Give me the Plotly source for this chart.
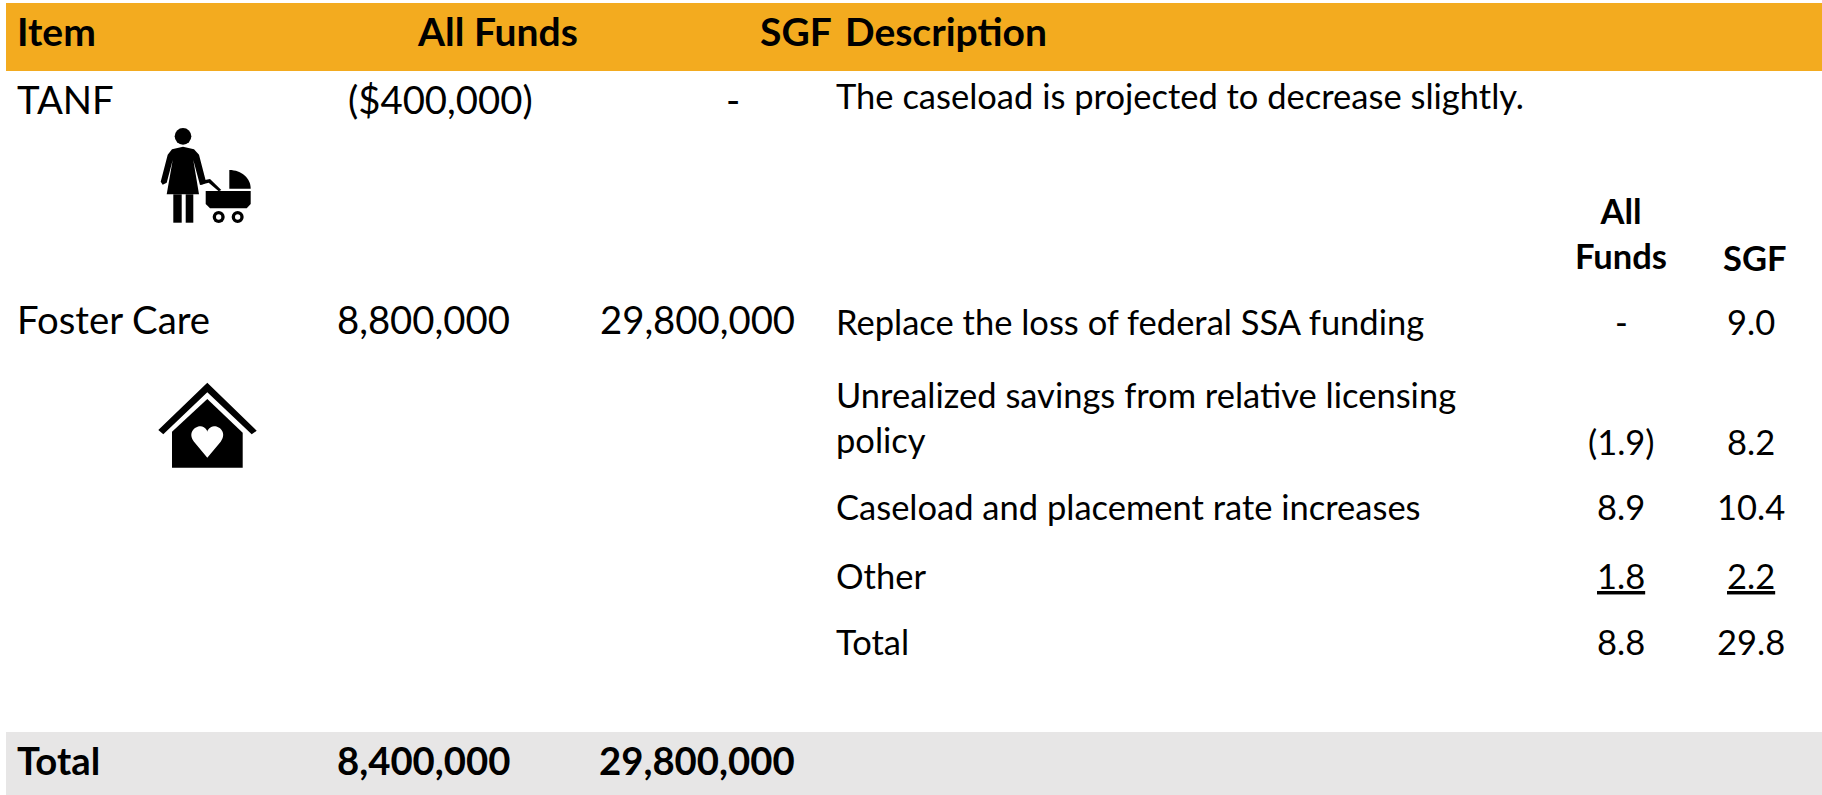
import plotly.graph_objects as go

W, H = 1822, 795
FONT = "Lato"
SIZE_LEFT = 38.3
SIZE_DESC = 34.5
SIZE_HEAD = 39

# ---- table content ----
header_labels = ["Item", "All Funds", "SGF", "Description"]
item_labels = ["TANF", "Foster Care", "Total"]
all_funds = ["($400,000)", "8,800,000", "8,400,000"]
sgf = ["-", "29,800,000", "29,800,000"]
tanf_description = "The caseload is projected to decrease slightly."
detail_labels = ["Replace the loss of federal SSA funding",
                 "Unrealized savings from relative licensing<br>policy",
                 "Caseload and placement rate increases", "Other", "Total"]
detail_all_funds = ["-", "(1.9)", "8.9", "<u>1.8</u>", "8.8"]
detail_sgf = ["9.0", "8.2", "10.4", "<u>2.2</u>", "29.8"]
detail_headers = ["All<br>Funds", "SGF"]

ORANGE = "#F3AB1F"
GREY = "#E7E6E6"
INK = "#000000"

fig = go.Figure()
ann = []


def text(x, y, s, anchor="left", bold=False, size=SIZE_LEFT):
    ann.append(dict(x=x, y=y, text=f"<b>{s}</b>" if bold else s, xref="x", yref="y",
                    showarrow=False, xanchor=anchor, yanchor="middle",
                    align="center" if anchor == "center" else "left",
                    font=dict(family=FONT, size=size, color=INK),
                    borderpad=0, borderwidth=0))


# header row
text(17, 31, header_labels[0], bold=True, size=SIZE_HEAD)
text(578, 31, header_labels[1], anchor="right", bold=True, size=SIZE_HEAD)
text(832, 31, header_labels[2], anchor="right", bold=True, size=SIZE_HEAD)
text(845, 31, header_labels[3], bold=True, size=SIZE_HEAD)

# main rows
row_y = [99, 319, 760]
col_item, col_af, col_sgf = 17, 510, 795
text(col_item, row_y[0], item_labels[0])
text(533, row_y[0], all_funds[0], anchor="right")
text(733, row_y[0], sgf[0], anchor="center")
text(836, 95, tanf_description, size=SIZE_DESC)
text(col_item, row_y[1], item_labels[1])
text(col_af, row_y[1], all_funds[1], anchor="right")
text(col_sgf, row_y[1], sgf[1], anchor="right")
text(col_item, row_y[2], item_labels[2], bold=True)
text(col_af, row_y[2], all_funds[2], anchor="right", bold=True)
text(col_sgf, row_y[2], sgf[2], anchor="right", bold=True)

# detail sub table
detail_y = [321, 417, 506, 575, 641]
val_y = [321, 441, 506, 575, 641]
col_d, col_daf, col_dsgf = 836, 1621, 1751
text(col_daf, 233, detail_headers[0], anchor="center", bold=True, size=SIZE_DESC)
text(1755, 257, detail_headers[1], anchor="center", bold=True, size=SIZE_DESC)
for i in range(5):
    text(col_d, detail_y[i], detail_labels[i], size=SIZE_DESC)
    text(col_daf, val_y[i], detail_all_funds[i], anchor="center", size=SIZE_DESC)
    text(col_dsgf, val_y[i], detail_sgf[i], anchor="center", size=SIZE_DESC)


# ---- icons, traced in crop pixels (crop origin + 3x zoom) ----
def pt(ox, oy, x, y):
    return f"{ox + x / 3:.1f},{oy + y / 3:.1f}"


def poly(ox, oy, pts):
    return "M" + " L".join(pt(ox, oy, *p) for p in pts) + " Z"


shapes = [
    dict(type="rect", x0=6, x1=W, y0=3, y1=71, fillcolor=ORANGE, line_width=0, layer="below"),
    dict(type="rect", x0=6, x1=W, y0=732, y1=795, fillcolor=GREY, line_width=0, layer="below"),
]


def fill(path, color=INK):
    shapes.append(dict(type="path", path=path, fillcolor=color, line_width=0, xref="x", yref="y"))


def circle(cx, cy, r, color=INK):
    shapes.append(dict(type="circle", x0=cx - r, x1=cx + r, y0=cy - r, y1=cy + r,
                       fillcolor=color, line_width=0, xref="x", yref="y"))


# mother and pram
fill(poly(0, 0, [(549, 440), (582, 448), (597, 464), (618, 545), (612, 552), (600, 555), (580, 480),
                 (597, 583), (500, 583), (518, 480), (500, 548), (488, 554), (482, 545), (503, 464), (516, 448)]))
fill(poly(0, 0, [(520, 583), (545, 583), (545, 668), (520, 668)]))
fill(poly(0, 0, [(557, 583), (580, 583), (580, 668), (557, 668)]))
fill(poly(0, 0, [(600, 543), (630, 537), (664, 570), (656, 574), (626, 548), (602, 554)]))
circle(549 / 3, 409 / 3, 25 / 3)
fill("M" + pt(0, 0, 688, 510) + " C" + pt(0, 0, 725, 510) + " " + pt(0, 0, 752, 535) + " " + pt(0, 0, 752, 566)
     + " L" + pt(0, 0, 688, 566) + " Z")
fill(poly(0, 0, [(617, 573), (752, 573), (752, 612), (740, 625), (630, 625), (617, 612)]))
for wx in (656, 713):
    circle(wx / 3, 651 / 3, 18 / 3)
    circle(wx / 3, 651 / 3, 8 / 3, "white")

# house
ox, oy = 130, 360
fill(poly(ox, oy, [(232, 68), (380, 212), (365, 223), (232, 97), (100, 223), (85, 210)]))
fill(poly(ox, oy, [(232, 117), (338, 218), (338, 323), (126, 323), (126, 215)]))
fill("M" + pt(ox, oy, 232, 293) + " L" + pt(ox, oy, 192, 245) + " C" + pt(ox, oy, 172, 218) + " " + pt(ox, oy, 195, 198)
     + " " + pt(ox, oy, 212, 199) + " C" + pt(ox, oy, 224, 200) + " " + pt(ox, oy, 232, 210) + " " + pt(ox, oy, 232, 216)
     + " C" + pt(ox, oy, 232, 210) + " " + pt(ox, oy, 240, 200) + " " + pt(ox, oy, 252, 199)
     + " C" + pt(ox, oy, 269, 198) + " " + pt(ox, oy, 292, 218) + " " + pt(ox, oy, 272, 245) + " Z", "white")

fig.update_layout(
    width=W, height=H, autosize=False,
    margin=dict(l=0, r=0, t=0, b=0),
    paper_bgcolor="white", plot_bgcolor="white", showlegend=False,
    xaxis=dict(range=[0, W], visible=False, fixedrange=True),
    yaxis=dict(range=[H, 0], visible=False, fixedrange=True),
    shapes=shapes, annotations=ann,
)
fig.write_html("out.html", config={"displayModeBar": False},
               post_script="document.body.style.margin='0';document.documentElement.style.overflow='hidden';")
